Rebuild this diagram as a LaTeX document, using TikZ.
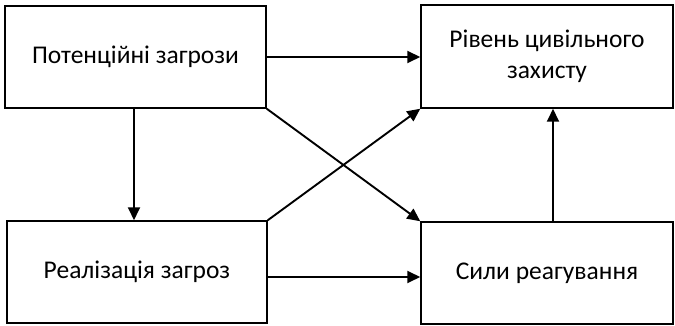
\documentclass[tikz,border=0pt]{standalone}
\usepackage{fontspec}
\setmainfont{Carlito}
\usetikzlibrary{arrows.meta}
\begin{document}
\begin{tikzpicture}[x=1pt,y=-1pt,
  box/.style={draw=black,line width=1.5pt,rectangle,inner sep=0pt,align=center,
    font=\fontsize{25.5}{30.5}\selectfont},
  conn/.style={line width=1.9pt,-{Triangle[length=13pt,width=12pt]}}]
\useasboundingbox (0,0) rectangle (675,326);
\node[box,minimum width=261pt,minimum height=102pt] (A) at (135.5,57) {Потенційні загрози};
\node[box,minimum width=252pt,minimum height=103pt] (B) at (547,56.5) {Рівень цивільного\\захисту};
\node[box,minimum width=260pt,minimum height=102pt] (C) at (137,272) {Реалізація загроз};
\node[box,minimum width=252pt,minimum height=102pt] (D) at (547,273) {Сили реагування};
\draw[conn] (A.east) -- (A.east -| B.west);
\draw[conn] (A.south east) -- (D.north west);
\draw[conn] (C.north east) -- (B.south west);
\draw[conn] (A.south -| 134,0) -- (C.north -| 134,0);
\draw[conn] (C.east |- 0,277) -- (D.west |- 0,277);
\draw[conn] (D.north -| 553,0) -- (B.south -| 553,0);
\end{tikzpicture}
\end{document}
